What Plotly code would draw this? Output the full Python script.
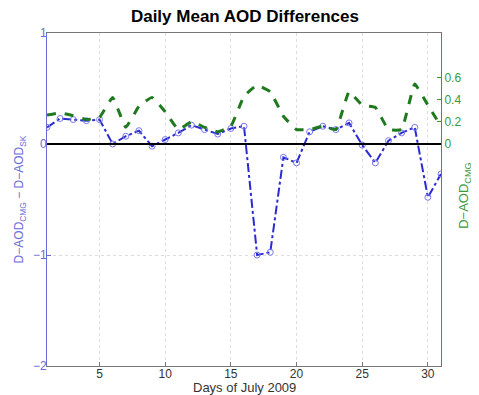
import plotly.graph_objects as go

days = list(range(1, 32))
diff_cmg_sk = [0.15, 0.23, 0.22, 0.21, 0.22, 0.00, 0.07, 0.12, -0.02, 0.04,
               0.10, 0.17, 0.13, 0.09, 0.14, 0.16, -1.00, -0.975, -0.12, -0.17,
               0.11, 0.16, 0.13, 0.19, -0.01, -0.17, 0.03, 0.10, 0.15, -0.48, -0.27]
aod_cmg = [0.26, 0.28, 0.255, 0.22, 0.24, 0.42, 0.15, 0.34, 0.42, 0.29,
           0.13, 0.20, 0.15, 0.11, 0.16, 0.43, 0.53, 0.47, 0.25, 0.13,
           0.13, 0.16, 0.13, 0.47, 0.35, 0.33, 0.13, 0.13, 0.54, 0.35, 0.16]
x_ticks = [5, 10, 15, 20, 25, 30]
left_ticks = [-2, -1, 0, 1]
right_ticks = [0, 0.2, 0.4, 0.6]

blue = "#2a2ad0"
axblue = "#6a6ad8"
green = "#1f7a1f"
axgreen = "#3a9a3a"
font = "Liberation Sans, Arial, sans-serif"

fig = go.Figure()
fig.add_trace(go.Scatter(x=days, y=aod_cmg, yaxis="y2", mode="lines",
                         line=dict(color=green, width=3, dash="dash", shape="spline", smoothing=0.3),
                         showlegend=False))
fig.add_trace(go.Scatter(x=days, y=diff_cmg_sk, mode="lines+markers",
                         line=dict(color=blue, width=2, dash="dashdot"),
                         marker=dict(symbol="circle-open", size=6, color="#7777ee", line=dict(width=1)),
                         showlegend=False))
fig.add_shape(type="line", xref="x", yref="y", x0=1, x1=31, y0=0, y1=0,
              line=dict(color="black", width=2))
fig.add_annotation(text="D−AOD<sub>CMG</sub>", xref="paper", yref="paper", x=1.06, y=0.51,
                   xanchor="center", yanchor="middle", textangle=-90, showarrow=False,
                   font=dict(size=13, color=axgreen))
fig.add_annotation(text="Days of July 2009", xref="paper", yref="paper", x=0.5, y=-0.064,
                   xanchor="center", yanchor="middle", showarrow=False,
                   font=dict(size=13, color="#333"))

fig.update_layout(
    width=471, height=387,
    margin=dict(l=39, r=38, t=25, b=29, autoexpand=False),
    paper_bgcolor="white", plot_bgcolor="white",
    font=dict(family=font, size=12, color="#333"),
    title=dict(text="<b>Daily Mean AOD Differences</b>", x=0.503, xanchor="center",
               y=0.979, yanchor="middle", font=dict(size=17, color="black")),
    xaxis=dict(range=[1, 31], tickvals=x_ticks, showgrid=True, gridcolor="#dddddd",
               griddash="dot", gridwidth=1, zeroline=False, showline=True, linecolor="#777",
               mirror=True, ticks="inside", ticklen=4, tickcolor="#777", automargin=False,
               ticklabelstandoff=-3, tickfont=dict(size=12, color="#333")),
    yaxis=dict(range=[-2, 1], tickvals=left_ticks, ticktext=["−2", "−1", "0", "1"],
               showgrid=True, gridcolor="#dddddd", griddash="dot", zeroline=False,
               showline=True, linecolor=axblue, ticks="inside", ticklen=4, tickcolor=axblue,
               tickfont=dict(size=12, color=axblue), automargin=False, ticklabelstandoff=-3,
               title=dict(text="D−AOD<sub>CMG</sub> − D−AOD<sub>SK</sub>", standoff=6,
                          font=dict(size=12, color=axblue))),
    yaxis2=dict(range=[-2, 1], overlaying="y", side="right", tickvals=right_ticks,
                ticktext=["0", "0.2", "0.4", "0.6"], showgrid=False, zeroline=False,
                showline=True, linecolor=axgreen, ticks="inside", ticklen=4, tickcolor=axgreen,
                tickfont=dict(size=12, color=axgreen), automargin=False),
)
fig.write_html("out.html")
